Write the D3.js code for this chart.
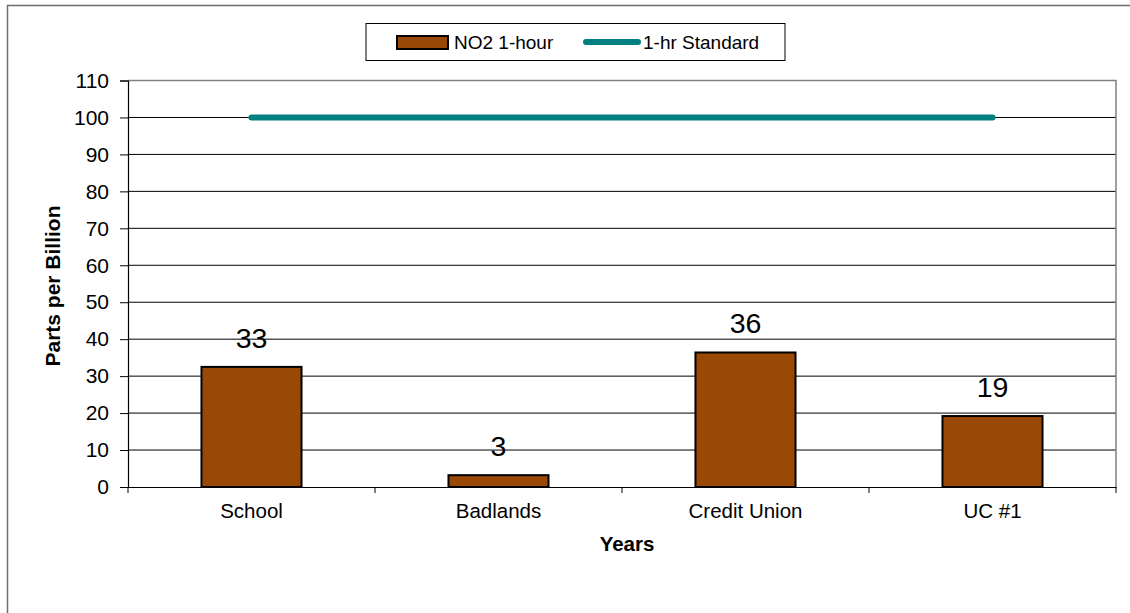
<!DOCTYPE html>
<html>
<head>
<meta charset="utf-8">
<script src="https://cdn.jsdelivr.net/npm/d3@7"></script>
<style>
  html, body { margin: 0; padding: 0; background: #fff; }
  svg { display: block; }
  text { font-family: Arial, "Liberation Sans", sans-serif; }
</style>
</head>
<body>
<svg id="chart" width="1130" height="613"></svg>
<script>
// ---- data ----
const categories = ["School", "Badlands", "Credit Union", "UC #1"];
const no2Values = [32.5, 3.2, 36.4, 19.2];
const standardValues = [100, 100, 100, 100];
const yTicks = [0, 10, 20, 30, 40, 50, 60, 70, 80, 90, 100, 110];
const seriesNames = ["NO2 1-hour", "1-hr Standard"];

// ---- layout ----
const W = 1130, H = 613;
const plot = { left: 128, right: 1116, top: 80.5, bottom: 487 };
const svg = d3.select("#chart");

// outer frame
svg.append("rect")
  .attr("x", 7.5).attr("y", 5.5)
  .attr("width", W + 20).attr("height", H + 20)
  .attr("fill", "none").attr("stroke", "#6e6e6e").attr("stroke-width", 1.5);

const x = d3.scaleBand().domain(categories)
  .range([plot.left, plot.right])
  .paddingInner(0.595).paddingOuter(0.2975);
const y = d3.scaleLinear().domain([0, 110]).range([plot.bottom, plot.top]);

// gridlines
svg.append("g").selectAll("line").data(yTicks.filter(d => d > 0 && d < 110))
  .join("line")
  .attr("x1", plot.left).attr("x2", plot.right)
  .attr("y1", d => y(d)).attr("y2", d => y(d))
  .attr("stroke", "#000").attr("stroke-width", 1);

// plot border (top & right grey)
svg.append("path")
  .attr("d", `M${plot.left},${y(110)}H${plot.right}V${plot.bottom}`)
  .attr("fill", "none").attr("stroke", "#808080").attr("stroke-width", 1.5);

// y axis
const yAxis = d3.axisLeft(y).tickValues(yTicks).tickSize(8).tickPadding(11)
  .tickFormat(d3.format("d"));
const gy = svg.append("g").attr("transform", `translate(${plot.left},0)`).call(yAxis);
gy.select(".domain").attr("stroke", "#000").attr("stroke-width", 1.2);
gy.selectAll(".tick line").attr("stroke", "#000");
gy.selectAll(".tick text").attr("font-size", 21).attr("fill", "#000")
  .attr("font-family", "Arial, 'Liberation Sans', sans-serif");

// x axis line & boundary ticks
const xAxis = d3.axisBottom(x).tickSize(0).tickPadding(16);
const gx = svg.append("g").attr("transform", `translate(0,${plot.bottom})`).call(xAxis);
gx.select(".domain").attr("stroke", "#000").attr("stroke-width", 1.2);
gx.selectAll(".tick text").attr("font-size", 20.5).attr("fill", "#000")
  .attr("font-family", "Arial, 'Liberation Sans', sans-serif");
const boundaries = categories.map(c => x(c) - x.step() * x.paddingInner() / 2);
boundaries.push(plot.right);
svg.append("g").selectAll("line").data(boundaries).join("line")
  .attr("x1", d => d).attr("x2", d => d)
  .attr("y1", plot.bottom).attr("y2", plot.bottom + 6)
  .attr("stroke", "#000").attr("stroke-width", 1);

// bars
svg.append("g").selectAll("rect").data(categories).join("rect")
  .attr("x", d => x(d))
  .attr("y", (d, i) => y(no2Values[i]))
  .attr("width", x.bandwidth())
  .attr("height", (d, i) => y(0) - y(no2Values[i]))
  .attr("fill", "#994806").attr("stroke", "#000").attr("stroke-width", 2);

// data labels
svg.append("g").selectAll("text").data(categories).join("text")
  .attr("x", d => x(d) + x.bandwidth() / 2)
  .attr("y", (d, i) => y(no2Values[i]) - 19)
  .attr("text-anchor", "middle").attr("font-size", 28.5).attr("fill", "#000")
  .text((d, i) => Math.round(no2Values[i]));

// standard line
const line = d3.line()
  .x((d, i) => x(categories[i]) + x.bandwidth() / 2)
  .y(d => y(d));
svg.append("path").datum(standardValues)
  .attr("d", line)
  .attr("fill", "none").attr("stroke", "#008080")
  .attr("stroke-width", 6).attr("stroke-linecap", "round");

// axis titles
svg.append("text").attr("x", 627).attr("y", 551)
  .attr("text-anchor", "middle").attr("font-weight", "bold").attr("font-size", 20.5)
  .text("Years");
svg.append("text")
  .attr("transform", "translate(60,286) rotate(-90)")
  .attr("text-anchor", "middle").attr("font-weight", "bold").attr("font-size", 21)
  .text("Parts per Billion");

// legend
const lg = svg.append("g");
lg.append("rect").attr("x", 366).attr("y", 23.5).attr("width", 419).attr("height", 37)
  .attr("fill", "#fff").attr("stroke", "#000").attr("stroke-width", 1);
lg.append("rect").attr("x", 397).attr("y", 36).attr("width", 51).attr("height", 13)
  .attr("fill", "#994806").attr("stroke", "#000").attr("stroke-width", 2);
lg.append("text").attr("x", 454).attr("y", 49).attr("font-size", 19).text(seriesNames[0]);
lg.append("line").attr("x1", 586).attr("x2", 638).attr("y1", 42).attr("y2", 42)
  .attr("stroke", "#008080").attr("stroke-width", 6).attr("stroke-linecap", "round");
lg.append("text").attr("x", 643).attr("y", 49).attr("font-size", 19).text(seriesNames[1]);
</script>
</body>
</html>
